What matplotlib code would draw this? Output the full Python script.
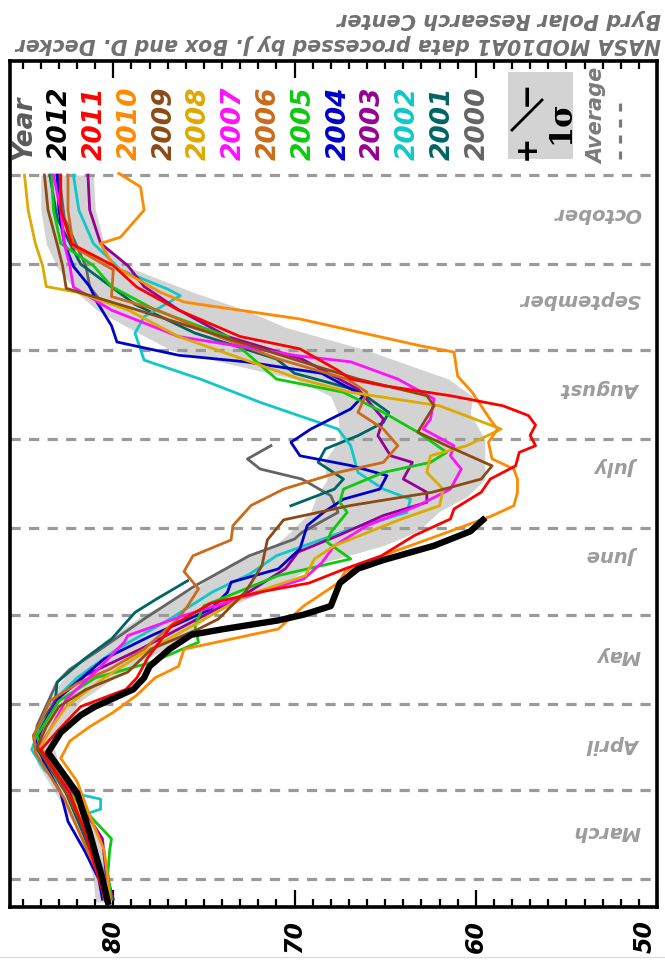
import numpy as np
import matplotlib
matplotlib.use("Agg")
from matplotlib import pyplot as plt
from matplotlib.ticker import MultipleLocator
from matplotlib.patches import Rectangle
from matplotlib.lines import Line2D
import matplotlib.transforms as mtransforms

nan = np.nan

# Greenland ice sheet albedo (%) by day of year
day_2012 = [52, 60, 76, 90, 104, 111, 117, 120, 126, 130, 134, 140, 145, 147, 150, 152, 155, 163, 168, 171, 176, 181, 185]
alb_2012 = [80.3, 80.6, 81.3, 82.0, 83.6, 82.9, 81.8, 81.0, 78.9, 78.3, 78.0, 76.9, 75.7, 73.9, 70.9, 69.5, 68.0, 67.5, 66.5, 65.1, 62.3, 60.3, 59.6]

day_2011 = [52, 60, 75, 90, 105, 112, 120, 126, 130, 137, 148, 156, 160, 163, 168, 172.5, 179.5, 185.3, 188.8, 194.6, 199.2, 203.8, 208.5,
            210.8, 214.4, 218, 221.3, 224.7, 228.2, 231.7, 234, 237, 244.5, 248.8, 258, 266, 273.5, 281, 293, 305]
alb_2011 = [80.4, 80.8, 81.5, 82.4, 84.0, 83.0, 81.8, 79.3, 78.7, 78.1, 76.8, 74.6, 71.8, 69.2, 67.2, 65.2, 63.4, 61.4, 61.2, 59.7, 59.2, 57.8, 57.6,
            56.7, 57.0, 56.7, 57.1, 58.5, 61.4, 65.1, 66.9, 67.6, 69.7, 73.0, 76.4, 78.7, 80.0, 82.3, 82.9, 82.9]

day_2010 = [53, 60, 70, 82, 94, 102, 108, 113, 118, 124, 130, 134, 140, 147, 155, 163, 167, 174, 180.6, 186.4, 189.9, 194.6, 199.2, 202.7,
            206.2, 212, 216.6, 219, 229.4, 235, 243.4, 245.5, 254.9, 260.8, 264.2, 273.5, 281.2, 283.4, 292.8, 300.9, 305.6]
alb_2010 = [80.2, 80.3, 80.5, 81.3, 82.0, 82.9, 82.4, 81.3, 80.0, 78.7, 77.7, 76.4, 76.1, 70.9, 69.5, 67.6, 67.2, 64.5, 61.6, 59.1, 57.9, 57.7, 57.7, 57.9,
            59.1, 59.3, 58.8, 59.1, 60.2, 61.0, 61.2, 63.0, 69.7, 76.1, 77.4, 80.0, 80.7, 79.6, 78.3, 78.5, 79.7]

day_2009 = [53, 60, 75, 90, 106, 113, 120, 126, 132, 140, 147, 150.5, 160, 169, 178, 185, 190, 194.6, 199.2, 203.8, 210.8, 215.5, 224.7,
            228.2, 234, 241, 248.8, 258.1, 265.6, 273.5, 281, 292.8, 305]
alb_2009 = [80.4, 80.6, 81.4, 82.6, 84.2, 83.7, 83.0, 81.5, 79.2, 77.9, 75.3, 74.2, 72.7, 71.8, 71.5, 70.6, 66.9, 62.4, 59.7, 59.1, 61.6, 63.2, 62.3,
            62.7, 66.5, 70.1, 74.0, 78.7, 82.6, 82.8, 83.1, 83.6, 83.8]

day_2008 = [53, 60, 75, 90, 106, 112, 120, 130, 138.9, 149.3, 158.6, 165.6, 171.4, 176, 185.3, 189.9, 195.7, 201.5, 207.3, 210.8, 216.6,
            224.7, 229.4, 234, 248.8, 258.1, 264.2, 266.2, 273.5, 281.2, 292.8, 305]
alb_2008 = [80.4, 80.6, 81.2, 82.4, 84.0, 83.5, 82.6, 80.5, 78.3, 75.3, 72.7, 69.4, 68.9, 67.8, 64.1, 62.0, 61.8, 62.7, 62.5, 60.5, 58.6,
            62.0, 66.9, 69.7, 76.4, 79.2, 82.0, 83.7, 83.9, 84.3, 84.7, 84.9]

day_2007 = [53, 60, 75, 90, 106, 113, 120, 122.6, 132, 142.4, 144.7, 151.7, 156.3, 164.4, 170, 176, 183, 189.9, 195.7, 202.7, 207.3, 210.8,
            216.6, 220, 227.1, 234, 240, 242, 248.8, 258, 266, 273.5, 281, 292.8, 305]
alb_2007 = [80.3, 80.5, 81.4, 82.5, 84.1, 83.4, 82.8, 82.6, 81.0, 79.4, 79.2, 76.1, 73.7, 69.5, 68.5, 67.8, 66.0, 63.2, 61.4, 60.8, 61.4, 61.2,
            62.9, 62.5, 62.3, 64.3, 66.9, 69.7, 76.4, 80.1, 82.2, 82.4, 82.7, 82.9, 83.3]

day_2006 = [53, 60, 75, 88, 104, 110, 116, 122, 128, 133, 140, 150, 155, 161, 167, 172.5, 178, 183, 190, 195.7, 201.5, 205, 210.8, 216.6,
            222.4, 229.4, 234, 241, 248.8, 258.1, 262.7, 272, 280, 292.8, 305]
alb_2006 = [80.5, 80.7, 81.8, 82.7, 84.3, 84.4, 83.9, 83.5, 82.0, 80.2, 78.3, 76.5, 75.9, 75.3, 76.1, 75.6, 73.5, 73.4, 72.4, 70.6, 67.6, 65.1, 64.3, 65.1,
            66.5, 66.0, 67.1, 70.9, 74.2, 77.6, 80.1, 80.0, 82.2, 82.5, 82.5]

day_2005 = [53, 62, 70, 74, 80, 90, 104, 110, 116, 122, 130, 135.4, 142.4, 148.2, 155.1, 165.6, 171.4, 177.2, 180.6, 187.6, 191.1, 195.7,
            201.5, 205, 208.5, 215.5, 222.4, 229.4, 234, 248.8, 258.1, 266.2, 273.5, 281.2, 292.8, 305]
alb_2005 = [80.1, 80.3, 80.2, 80.1, 81.0, 82.4, 84.0, 84.2, 83.6, 83.0, 81.0, 77.9, 75.3, 75.5, 75.0, 70.9, 66.9, 68.2, 68.0, 67.1, 67.5, 67.3,
            65.1, 62.5, 61.6, 63.2, 65.1, 67.3, 71.0, 73.7, 77.7, 80.1, 81.1, 82.9, 83.3, 83.4]

day_2004 = [53, 60, 70, 80, 90, 100, 108, 112.2, 123.8, 136.6, 144.7, 154, 159.8, 163.3, 167.9, 174.9, 183, 187.6, 192.2, 195.7, 200.4,
            203.9, 207.3, 212, 216.6, 223.6, 228.2, 236, 240, 242.3, 246.9, 252.6, 260.8, 266.2, 273.2, 281.2, 292.8, 305]
alb_2004 = [80.6, 80.8, 81.6, 82.5, 82.9, 83.8, 84.2, 84.0, 82.9, 80.5, 77.9, 74.6, 73.7, 73.5, 70.9, 69.7, 69.3, 68.4, 67.3, 65.3, 64.9,
            66.9, 69.7, 70.2, 69.1, 66.9, 66.2, 68.5, 72.7, 76.4, 79.8, 80.1, 80.9, 81.3, 82.2, 82.7, 83.0, 83.1]

day_2003 = [53, 62, 74, 88, 104, 110, 117, 122, 131, 140, 150, 160, 168, 173.8, 179.5, 186.5, 191.1, 194.6, 199.2, 205, 207.3, 214.3,
            220.1, 230.5, 241, 248.8, 258.1, 266.2, 273.5, 281.2, 292.8, 305]
alb_2003 = [80.0, 80.4, 80.6, 82.0, 84.0, 84.1, 83.6, 83.2, 81.5, 78.5, 75.5, 72.5, 70.5, 69.8, 67.6, 65.1, 62.7, 62.7, 64.0, 63.5, 64.7, 65.4,
            65.1, 66.5, 69.6, 73.7, 76.4, 78.3, 79.2, 80.7, 81.3, 81.4]

day_2002 = [53, 62, 75, 82, 84.3, 87.8, 90, 98, 105, 112, 118, 122, 130, 140, 150, 160, 166, 172.5, 181.8, 187.6, 192.2, 195.7, 201.5,
            210.8, 216.6, 225.9, 234, 240.6, 250, 255.7, 263, 265.3, 272, 281.2, 292.8, 305]
alb_2002 = [80.3, 80.5, 81.3, 81.8, 80.7, 80.7, 82.3, 83.8, 84.5, 84.1, 83.5, 83.3, 82.0, 79.8, 77.0, 74.5, 72.5, 71.0, 66.9, 63.8, 63.6, 65.1, 66.5,
            66.9, 67.6, 71.9, 75.2, 78.3, 78.8, 78.3, 76.3, 77.0, 79.6, 81.1, 81.9, 82.2]

day_2001 = [53, 60, 75, 90, 106, 110, 116, 122, 128.5, 136.6, 143.5, 152.8, 157.5, 163.8, nan, 189.9, 195.7, 199.2, 205, 209.7, 214.3,
            218.9, 222.4, 230, 236, 241, 250, 260, 274, 290, 305]
alb_2001 = [80.4, 80.6, 81.6, 82.6, 84.3, 84.4, 83.8, 83.2, 83.1, 81.6, 80.1, 78.8, 77.6, 75.9, nan, 70.2, 67.8, 67.3, 68.7, 68.3, 66.5,
            65.1, 64.8, 66.5, 70.0, 71.0, 75.5, 78.8, 81.8, 83.1, 83.5]

day_2000 = [55, 60, 75, 90, 104, 110, 113.5, 128.5, 133, 140, 150.5, 162, 172.5, 178.3, 180.6, 187.6, 193.4, 199.2, 202.7, 206.2, 210.8,
            nan, 262, 266, 273, 290, 305]
alb_2000 = [80.6, 80.7, 81.6, 82.6, 84.0, 84.3, 84.2, 83.1, 82.4, 80.7, 78.3, 75.5, 72.5, 70.0, 69.6, 67.6, 68.0, 69.6, 71.9, 72.6, 71.3,
            nan, 80.8, 81.3, 81.5, 82.7, 83.0]

# +/- 1 sigma envelope around the 2000-2011 average
band_day = [52, 60, 75, 90, 100, 108, 115, 122, 132, 143, 152, 162, 170, 176, 181, 188, 193, 199, 205, 213, 222, 228, 234,
            244, 252, 258, 264, 273, 281, 293, 305]
band_lo = [80.2, 80.3, 80.8, 81.8, 83.0, 83.4, 82.6, 81.8, 79.5, 76.3, 74.6, 71.0, 68.5, 65.1, 63.2, 62.0, 60.5, 59.5, 59.5, 59.5, 60.3, 60.2, 61.5,
           66.0, 70.5, 72.7, 75.5, 79.2, 80.5, 81.0, 81.1]
band_hi = [81.0, 81.1, 81.8, 83.2, 84.2, 84.4, 84.0, 83.6, 82.5, 80.5, 78.3, 75.3, 73.5, 71.1, 70.2, 69.1, 68.8, 68.2, 68.4, 67.5, 67.6, 68.0, 70.0,
           76.8, 79.2, 80.9, 82.0, 83.1, 83.7, 84.0, 84.0]

month_names = ["March", "April", "May", "June", "July", "August", "September", "October"]
month_label_day = [77, 107, 138, 173, 204, 231, 262, 292]
month_start_day = [60, 91, 121, 152, 182, 213, 244, 274, 305]

years = ["2012", "2011", "2010", "2009", "2008", "2007", "2006", "2005", "2004", "2003", "2002", "2001", "2000"]
series = {
    "2012": (day_2012, alb_2012), "2011": (day_2011, alb_2011), "2010": (day_2010, alb_2010),
    "2009": (day_2009, alb_2009), "2008": (day_2008, alb_2008), "2007": (day_2007, alb_2007),
    "2006": (day_2006, alb_2006), "2005": (day_2005, alb_2005), "2004": (day_2004, alb_2004),
    "2003": (day_2003, alb_2003), "2002": (day_2002, alb_2002), "2001": (day_2001, alb_2001),
    "2000": (day_2000, alb_2000),
}
colors = {"2012": "black", "2011": "#ff0000", "2010": "#ff8a00", "2009": "#8b4a14", "2008": "#dcaa00",
          "2007": "#ff10ff", "2006": "#cc6a1a", "2005": "#10c810", "2004": "#0000c8", "2003": "#960096",
          "2002": "#10c8c8", "2001": "#006464", "2000": "#646464"}

plt.rcParams['font.family'] = ['DejaVu Sans']

W, H = 665, 962
fig = plt.figure(figsize=(W / 100, H / 100), dpi=100)
ax = fig.add_axes([10 / W, 54 / H, 647 / W, 846 / H])


def fpx(x, y):
    # pixel position (from top-left) -> figure fraction
    return x / W, 1 - y / H


ax.fill_betweenx(band_day, band_lo, band_hi, color='#d3d3d3', lw=0, zorder=1)

for d in month_start_day:
    ax.axhline(d, color='#9a9a9a', lw=2.3, ls=(0, (3.2, 2.6)), zorder=2)

for yr in reversed(years):
    d, a = series[yr]
    lw = 4.6 if yr == "2012" else 2.0
    ax.plot(a, d, color=colors[yr], lw=lw, zorder=3, solid_joinstyle='round')

ax.set_xlim(85.7, 50)
ax.set_ylim(50.25, 344.7)
ax.xaxis.set_major_locator(MultipleLocator(10))
ax.xaxis.set_minor_locator(MultipleLocator(1))
ax.tick_params(axis='x', which='both', direction='in', top=True, bottom=True, width=1.6, color='black')
ax.tick_params(axis='x', which='major', length=12, pad=9)
ax.tick_params(axis='x', which='minor', length=6)
ax.tick_params(axis='y', left=False, right=False, labelleft=False)
fig.canvas.draw()
for lab in ax.get_xticklabels():
    lab.set_rotation(90)
    lab.set_fontsize(17)
    lab.set_fontweight('bold')
    lab.set_fontstyle('italic')
    lab.set_va('top')
    if lab.get_text() == "50":
        lab.set_ha('right')
for s in ax.spines.values():
    s.set_linewidth(2.6)

trans = mtransforms.blended_transform_factory(ax.transAxes, ax.transData)
for name, d in zip(month_names, month_label_day):
    ax.text(0.975, d, name, transform=trans, rotation=180, ha='right', va='center',
            color='#9c9c9c', fontsize=14, fontweight='bold', fontstyle='italic', zorder=4)

# year legend along the top
fig.text(*fpx(24, 160), "Year", rotation=90, ha='center', va='bottom', color='#5a5a5a',
         fontsize=19, fontweight='bold', fontstyle='italic')
for i, yr in enumerate(years):
    fig.text(*fpx(60 + 34.8 * i, 160), yr, rotation=90, ha='center', va='bottom', color=colors[yr],
             fontsize=19, fontweight='bold', fontstyle='italic')

# +/- 1 sigma box
x0, y0 = fpx(508, 160)
fig.add_artist(Rectangle((x0, y0), 65 / W, 87 / H, transform=fig.transFigure, color='#d3d3d3', lw=0))
fig.text(*fpx(526, 147), "+", rotation=90, ha='center', va='center', fontsize=22, fontweight='bold')
fig.text(*fpx(526, 93), "\u2212", rotation=90, ha='center', va='center', fontsize=22, fontweight='bold')
fig.add_artist(Line2D([512 / W, 542 / W], [1 - 131 / H, 1 - 101 / H], transform=fig.transFigure, color='black', lw=2))
fig.text(*fpx(561, 122), "1\u03c3", rotation=90, ha='center', va='center', fontsize=22,
         family=['DejaVu Serif'], fontweight='bold')

fig.text(*fpx(597, 116), "Average", rotation=90, ha='center', va='center', color='#7a7a7a',
         fontsize=15, fontweight='bold', fontstyle='italic')
fig.add_artist(Line2D([620 / W, 620 / W], [1 - 160 / H, 1 - 100 / H], transform=fig.transFigure,
                      color='#7a7a7a', lw=2.3, ls=(0, (2.5, 2.5))))

# credits, printed upside down
fig.text(*fpx(661, 19), "Byrd Polar Research Center", rotation=180, ha='right', va='center',
         color='#707070', fontsize=15, fontweight='bold', fontstyle='italic')
fig.text(*fpx(661, 44), "NASA MOD10A1 data processed by J. Box and D. Decker", rotation=180, ha='right',
         va='center', color='#707070', fontsize=14.8, fontweight='bold', fontstyle='italic')

fig.add_artist(Line2D([0, 1], [1 - 958 / H, 1 - 958 / H], transform=fig.transFigure, color='#dddddd', lw=1))

fig.savefig("out.png", dpi=100)
